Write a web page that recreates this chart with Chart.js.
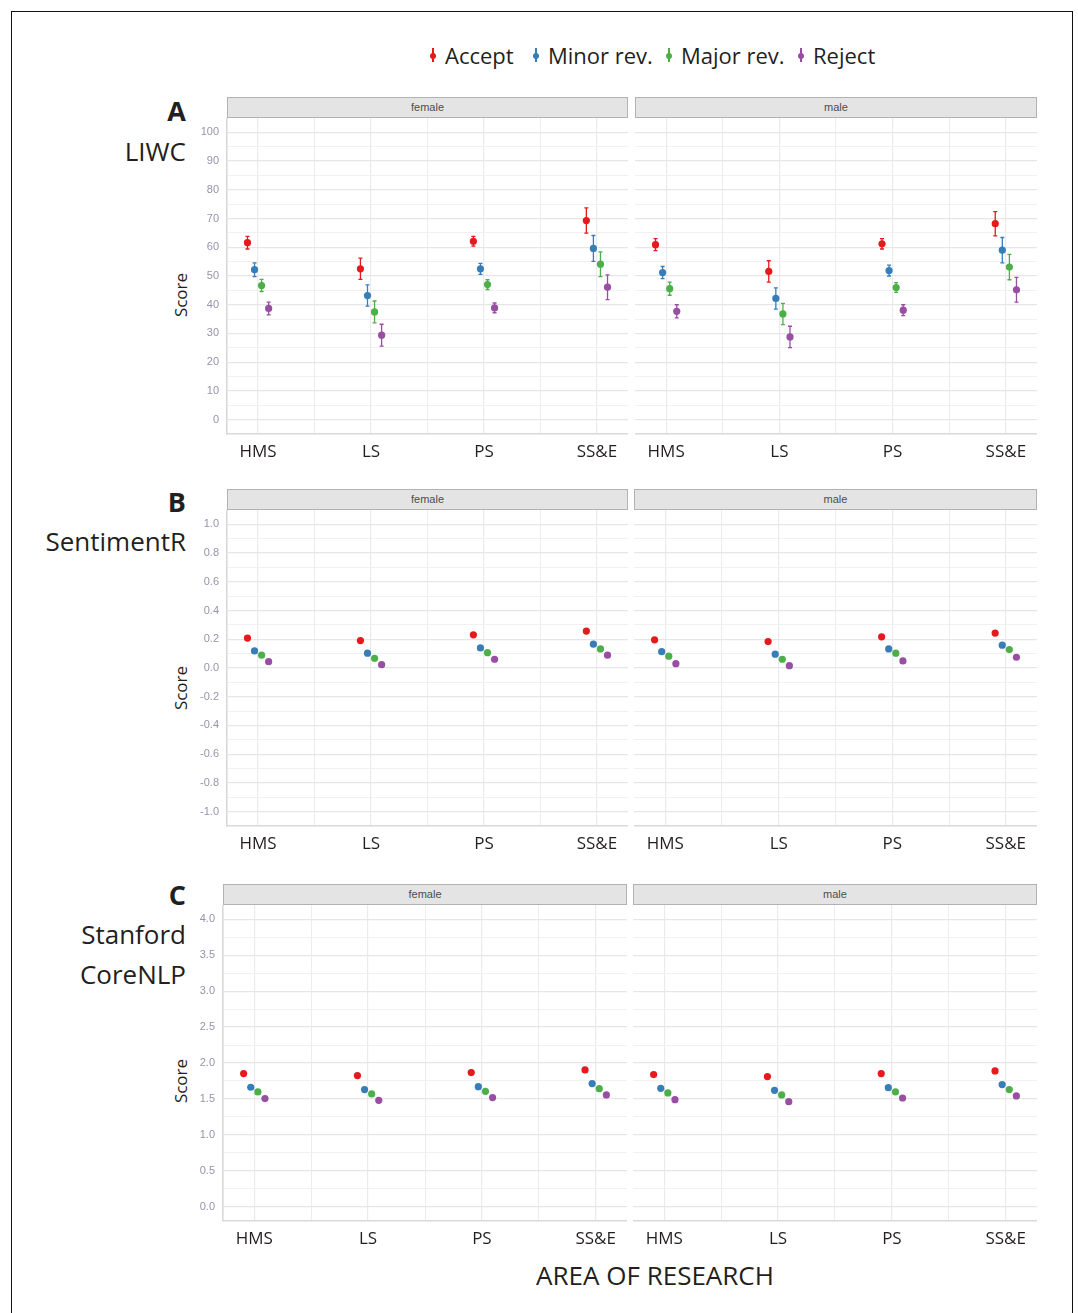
<!DOCTYPE html>
<html>
<head>
<meta charset="utf-8">
<script src="https://cdn.jsdelivr.net/npm/chart.js@4.4.1/dist/chart.umd.min.js"></script>
<style>
  html, body { margin:0; padding:0; background:#fff; }
  body { width:1078px; height:1313px; overflow:hidden; position:relative; font-family:"Open Sans", sans-serif; color:#231f20; }
  .abs { position:absolute; }
  .frame { left:11px; top:11px; width:1062px; height:1330px; border:1.5px solid #111; box-sizing:border-box; }
  .strip { position:absolute; background:#e4e4e4; border:1px solid #b2b2b2; box-sizing:border-box; font-family:"Liberation Sans", Arial, sans-serif; font-size:11px; color:#4d4d4d; text-align:center; line-height:19px; }
  .rlabel { position:absolute; right:892px; text-align:right; white-space:nowrap; line-height:30px; }
  .letter { font-weight:bold; font-size:27px; }
  .title { font-size:26px; }
  .score { position:absolute; width:100px; height:24px; line-height:24px; text-align:center; font-size:17px; transform:rotate(-90deg); }
  .xtitle { position:absolute; left:455px; width:400px; top:1260px; text-align:center; font-size:26px; line-height:30px; }
  .item { position:absolute; top:42px; display:flex; align-items:center; font-size:22px; line-height:26px; white-space:nowrap; }
  .glyph { position:relative; width:12px; height:26px; margin-right:6px; }
  .glyph .ln { position:absolute; left:5.25px; top:6px; width:1.5px; height:14px; }
  .glyph .dt { position:absolute; left:3px; top:10.5px; width:6px; height:6px; border-radius:50%; }
  canvas { position:absolute; }
</style>
</head>
<body>
<div class="abs frame"></div>

<div class="rlabel letter" style="top:96px">A</div>
<div class="rlabel title" style="top:136px">LIWC</div>
<div class="rlabel letter" style="top:487px">B</div>
<div class="rlabel title" style="top:526px">SentimentR</div>
<div class="rlabel letter" style="top:880px">C</div>
<div class="rlabel title" style="top:919px">Stanford</div>
<div class="rlabel title" style="top:959px">CoreNLP</div>

<div class="score" style="left:131px; top:283px">Score</div>
<div class="score" style="left:131px; top:676px">Score</div>
<div class="score" style="left:131px; top:1069px">Score</div>

<div class="strip" style="left:227px; top:97px; width:401px; height:21px">female</div>
<div class="strip" style="left:635px; top:97px; width:402px; height:21px">male</div>
<div class="strip" style="left:227px; top:489px; width:401px; height:21px">female</div>
<div class="strip" style="left:634px; top:489px; width:403px; height:21px">male</div>
<div class="strip" style="left:223px; top:884px; width:404px; height:21px">female</div>
<div class="strip" style="left:633px; top:884px; width:404px; height:21px">male</div>

<div class="xtitle">AREA OF RESEARCH</div>

<script>
// ---------------- DATA ----------------
const categories = ['HMS', 'LS', 'PS', 'SS&E'];
const decisions = ['Accept', 'Minor rev.', 'Major rev.', 'Reject'];

// A: LIWC (rows = decisions, columns = categories)
const liwcFemaleMean = [
  [61.6, 52.5, 62.1, 69.3],
  [52.2, 43.2, 52.5, 59.6],
  [46.7, 37.5, 47.0, 54.1],
  [38.7, 29.4, 38.9, 46.1]
];
const liwcFemaleErr = [
  [2.2, 3.7, 1.7, 4.4],
  [2.4, 3.7, 1.9, 4.5],
  [2.1, 3.8, 1.7, 4.3],
  [2.2, 3.8, 1.7, 4.3]
];
const liwcMaleMean = [
  [60.9, 51.6, 61.2, 68.2],
  [51.2, 42.2, 51.9, 59.0],
  [45.6, 36.8, 46.0, 53.1],
  [37.7, 28.8, 38.1, 45.2]
];
const liwcMaleErr = [
  [2.1, 3.7, 1.8, 4.2],
  [2.1, 3.7, 1.9, 4.4],
  [2.3, 3.7, 1.7, 4.4],
  [2.3, 3.7, 1.9, 4.3]
];

// B: SentimentR
const sentFemaleMean = [
  [0.208, 0.191, 0.231, 0.257],
  [0.119, 0.103, 0.140, 0.166],
  [0.089, 0.068, 0.107, 0.133],
  [0.044, 0.023, 0.061, 0.089]
];
const sentFemaleErr = [
  [0.006, 0.010, 0.005, 0.012],
  [0.006, 0.010, 0.005, 0.012],
  [0.006, 0.010, 0.005, 0.012],
  [0.006, 0.010, 0.005, 0.012]
];
const sentMaleMean = [
  [0.196, 0.184, 0.217, 0.243],
  [0.114, 0.096, 0.133, 0.159],
  [0.082, 0.061, 0.103, 0.128],
  [0.030, 0.016, 0.049, 0.075]
];
const sentMaleErr = [
  [0.006, 0.010, 0.005, 0.012],
  [0.006, 0.010, 0.005, 0.012],
  [0.006, 0.010, 0.005, 0.012],
  [0.006, 0.010, 0.005, 0.012]
];

// C: Stanford CoreNLP
const nlpFemaleMean = [
  [1.853, 1.825, 1.867, 1.904],
  [1.662, 1.630, 1.671, 1.713],
  [1.597, 1.569, 1.606, 1.643],
  [1.504, 1.480, 1.518, 1.555]
];
const nlpFemaleErr = [
  [0.012, 0.018, 0.010, 0.020],
  [0.012, 0.018, 0.010, 0.020],
  [0.012, 0.018, 0.010, 0.020],
  [0.012, 0.018, 0.010, 0.020]
];
const nlpMaleMean = [
  [1.839, 1.811, 1.853, 1.890],
  [1.648, 1.620, 1.657, 1.700],
  [1.583, 1.555, 1.597, 1.630],
  [1.490, 1.462, 1.513, 1.541]
];
const nlpMaleErr = [
  [0.012, 0.018, 0.010, 0.020],
  [0.012, 0.018, 0.010, 0.020],
  [0.012, 0.018, 0.010, 0.020],
  [0.012, 0.018, 0.010, 0.020]
];

// tick labels (major breaks)
const liwcTicks = [0, 10, 20, 30, 40, 50, 60, 70, 80, 90, 100];
const sentTicks = [-1.0, -0.8, -0.6, -0.4, -0.2, 0.0, 0.2, 0.4, 0.6, 0.8, 1.0];
const nlpTicks  = [0.0, 0.5, 1.0, 1.5, 2.0, 2.5, 3.0, 3.5, 4.0];

// ---------------- STYLE ----------------
const colors = ['#E41A1C', '#377EB8', '#4DAF4A', '#984EA3'];
const legendLeft = [427, 530, 663, 795];
const dodgeWidth = 0.25;
const xMin = 0.725, xMax = 4.275;

// legend (HTML)
decisions.forEach((name, i) => {
  const it = document.createElement('div');
  it.className = 'item';
  it.style.left = legendLeft[i] + 'px';
  it.innerHTML = '<div class="glyph"><div class="ln" style="background:' + colors[i] + '"></div><div class="dt" style="background:' + colors[i] + '"></div></div><span>' + name + '</span>';
  document.body.appendChild(it);
});

const errorBars = {
  id: 'errorBars',
  beforeDatasetsDraw(chart) {
    const ctx = chart.ctx, xs = chart.scales.x, ys = chart.scales.y;
    chart.data.datasets.forEach(ds => {
      ctx.save();
      ctx.strokeStyle = ds.backgroundColor;
      ctx.lineWidth = 1.3;
      ds.data.forEach(p => {
        const px = xs.getPixelForValue(p.x);
        const y1 = ys.getPixelForValue(p.y - p.e);
        const y2 = ys.getPixelForValue(p.y + p.e);
        ctx.beginPath();
        ctx.moveTo(px, y1); ctx.lineTo(px, y2);
        ctx.moveTo(px - 2, y1); ctx.lineTo(px + 2, y1);
        ctx.moveTo(px - 2, y2); ctx.lineTo(px + 2, y2);
        ctx.stroke();
      });
      ctx.restore();
    });
  }
};

function withMinors(majors) {
  const out = [];
  for (let i = 0; i < majors.length; i++) {
    out.push(majors[i]);
    if (i < majors.length - 1) out.push((majors[i] + majors[i + 1]) / 2);
  }
  return out;
}

function panel(cfg) {
  const cv = document.createElement('canvas');
  cv.width = cfg.width; cv.height = cfg.height;
  cv.style.left = cfg.left + 'px'; cv.style.top = cfg.top + 'px';
  cv.style.width = cfg.width + 'px'; cv.style.height = cfg.height + 'px';
  document.body.appendChild(cv);

  const datasets = decisions.map((name, s) => ({
    label: name,
    data: categories.map((c, k) => ({
      x: k + 1 + (s - 1.5) * dodgeWidth / 4,
      y: cfg.means[s][k],
      e: cfg.errs[s][k]
    })),
    backgroundColor: colors[s],
    borderColor: colors[s],
    pointRadius: 3.6,
    pointBorderWidth: 0,
    pointHoverRadius: 3.6
  }));

  const yt = withMinors(cfg.ticks);
  const majorSet = new Set(cfg.ticks.map(v => v.toFixed(4)));
  const isMajor = v => majorSet.has(v.toFixed(4));

  new Chart(cv, {
    type: 'scatter',
    data: { datasets },
    plugins: [errorBars],
    options: {
      responsive: false,
      animation: false,
      devicePixelRatio: 1,
      events: [],
      layout: { padding: 0, autoPadding: false },
      plugins: { legend: { display: false }, tooltip: { enabled: false } },
      scales: {
        x: {
          type: 'linear',
          min: xMin, max: xMax,
          afterBuildTicks: sc => { sc.ticks = [1, 1.5, 2, 2.5, 3, 3.5, 4].map(v => ({ value: v })); },
          afterFit: sc => { sc.height = 36; sc.paddingLeft = 0; sc.paddingRight = 0; },
          grid: {
            color: '#ebebeb',
            lineWidth: c => (c.tick && Number.isInteger(c.tick.value)) ? 1.2 : 0.9,
            drawTicks: false
          },
          border: { display: true, color: '#d9d9d9', width: 1.6 },
          ticks: {
            autoSkip: false, maxRotation: 0, padding: 8,
            color: '#231f20',
            font: { family: 'Open Sans', size: 17 },
            callback: v => Number.isInteger(v) ? categories[v - 1] : ''
          }
        },
        y: {
          type: 'linear',
          min: cfg.yMin, max: cfg.yMax,
          afterBuildTicks: sc => { sc.ticks = yt.map(v => ({ value: v })); },
          afterFit: sc => { sc.width = cfg.axisW; sc.paddingTop = 0; sc.paddingBottom = 0; },
          grid: {
            color: c => (c.tick && isMajor(c.tick.value)) ? '#e6e6e6' : '#efefef',
            lineWidth: c => (c.tick && isMajor(c.tick.value)) ? 1.3 : 0.9,
            drawTicks: false
          },
          border: { display: cfg.showY, color: '#d9d9d9', width: 1.6 },
          ticks: {
            display: cfg.showY,
            autoSkip: false, padding: 8,
            color: '#9494aa',
            font: { family: 'Liberation Sans', size: 11 },
            callback: v => isMajor(v) ? v.toFixed(cfg.decimals) : ''
          }
        }
      }
    }
  });
}

// Row A
panel({ left: 160, top: 118, width: 468, height: 352, axisW: 67, showY: true,
  means: liwcFemaleMean, errs: liwcFemaleErr, ticks: liwcTicks, yMin: -5, yMax: 105, decimals: 0 });
panel({ left: 635, top: 118, width: 402, height: 352, axisW: 0, showY: false,
  means: liwcMaleMean, errs: liwcMaleErr, ticks: liwcTicks, yMin: -5, yMax: 105, decimals: 0 });
// Row B
panel({ left: 160, top: 510, width: 468, height: 352, axisW: 67, showY: true,
  means: sentFemaleMean, errs: sentFemaleErr, ticks: sentTicks, yMin: -1.1, yMax: 1.1, decimals: 1 });
panel({ left: 634, top: 510, width: 403, height: 352, axisW: 0, showY: false,
  means: sentMaleMean, errs: sentMaleErr, ticks: sentTicks, yMin: -1.1, yMax: 1.1, decimals: 1 });
// Row C
panel({ left: 156, top: 905, width: 471, height: 352, axisW: 67, showY: true,
  means: nlpFemaleMean, errs: nlpFemaleErr, ticks: nlpTicks, yMin: -0.2, yMax: 4.2, decimals: 1 });
panel({ left: 633, top: 905, width: 404, height: 352, axisW: 0, showY: false,
  means: nlpMaleMean, errs: nlpMaleErr, ticks: nlpTicks, yMin: -0.2, yMax: 4.2, decimals: 1 });
</script>
</body>
</html>
